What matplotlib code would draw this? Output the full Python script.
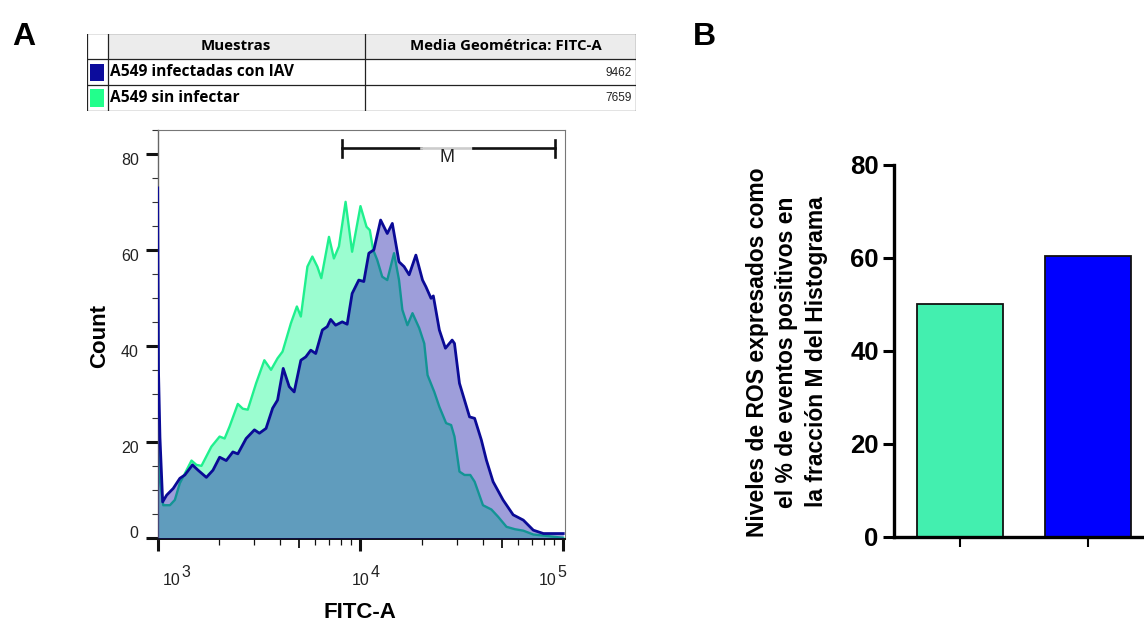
import numpy as np
import matplotlib
matplotlib.use("Agg")
import matplotlib.pyplot as plt
from matplotlib.patches import Rectangle

# ---- data -------------------------------------------------------------
# histogram: A549 infectadas con IAV (FITC-A intensity, count)
infected_fitc = [1000, 1009, 1026, 1058, 1107, 1193, 1286, 1361, 1484, 1581,
                 1738, 1873, 2020, 2178, 2348, 2484, 2730, 2999, 3173, 3422,
                 3687, 3900, 4159, 4452, 4710, 5081, 5373, 5687, 6015, 6486,
                 6855, 7129, 7540, 8128, 8597, 9094, 9810, 10385, 10996, 11644,
                 12570, 13555, 14355, 15490, 16410, 17380, 18760, 20230, 21030,
                 22280, 22870, 24490, 26240, 28320, 29080, 30770, 34510, 36550,
                 39450, 41780, 45080, 50480, 56620, 63530, 71180, 79830, 100000]
infected_count = [73, 35, 21, 7.6, 9.0, 10.4, 12.5, 13.2, 15.3, 14.2,
                  12.7, 14.2, 16.9, 16.2, 18.0, 17.6, 20.8, 22.6, 21.9, 22.9,
                  27.1, 28.8, 35.4, 31.6, 30.5, 37.1, 37.8, 39.2, 38.5, 43.4,
                  44.1, 45.6, 44.4, 45.1, 44.6, 51.0, 53.8, 53.5, 59.4, 60.1,
                  66.3, 63.5, 65.6, 57.6, 56.6, 54.9, 59.0, 53.8, 52.4,
                  50.0, 50.5, 43.4, 39.6, 41.3, 40.6, 32.3, 25.3, 25.0,
                  20.5, 16.3, 11.8, 8.0, 4.9, 3.8, 1.7, 1.0, 1.0]

# histogram: A549 sin infectar
uninf_fitc = [1000, 1009, 1026, 1065, 1149, 1215, 1286, 1361, 1468, 1553,
              1644, 1840, 2020, 2138, 2262, 2484, 2628, 2781, 3057, 3357,
              3622, 3900, 4128, 4538, 4857, 5081, 5474, 5790, 6127, 6410,
              6992, 7396, 7828, 8444, 9094, 10000, 10710, 11120, 11550, 12090,
              12800, 13555, 14640, 15490, 16090, 17040, 18050, 19480, 20630,
              21420, 23120, 24490, 26440, 27990, 29080, 30770, 32590, 34790,
              36550, 40180, 44240, 47710, 52500, 57740, 63530, 71180, 82990, 100000]
uninf_count = [60, 25, 12, 6.9, 6.9, 8.0, 11.5, 13.5, 16.2, 15.3,
               15.1, 19.1, 21.2, 20.8, 23.3, 28.0, 27.0, 26.8, 32.3, 37.1,
               35.1, 37.5, 38.9, 44.8, 48.3, 46.2, 56.6, 58.7, 56.6, 54.2,
               62.8, 58.3, 60.8, 70.1, 59.7, 69.2, 64.9, 64.2, 60.1, 58.0,
               54.5, 53.8, 59.4, 53.8, 47.6, 44.4, 46.9, 43.8, 40.6,
               34.0, 30.5, 27.4, 24.0, 23.6, 21.2, 13.9, 13.2, 13.2,
               11.8, 6.9, 6.0, 4.5, 2.4, 1.9, 1.6, 0.8, 0.5, 0.1]

gate_label = "M"
gate_range = [8070, 90600]
gate_label_gap = [19860, 35730]

table_header = ["Muestras", "Media Geométrica: FITC-A"]
sample_names = ["A549 infectadas con IAV", "A549 sin infectar"]
geo_means = [9462, 7659]
sample_colors = ["#0C0C9C", "#22FF8C"]

# bar chart (B)
bar_values = [50.0, 60.4]
bar_colors = ["#43EFAF", "#0000FF"]
bar_ylabel = "Niveles de ROS expresados como\nel % de eventos positivos en\nla fracción M del Histograma"

W, H = 1144, 623
plt.rcParams["font.family"] = ["Liberation Sans", "DejaVu Sans"]


def fx(px):
    return px / W


def fy(py):
    return 1 - py / H


fig = plt.figure(figsize=(W / 100, H / 100), dpi=100)

# ---- histogram -----------------------------------------------------------
ax = fig.add_axes([fx(157.7), fy(539.3), fx(565) - fx(157.7), fy(130.3) - fy(539.3)])
ax.set_xscale("log")
ax.set_xlim(1000, 102000)
ax.set_ylim(-0.2, 85)

ax.fill_between(uninf_fitc, 0, uninf_count, color="#9BFDD0", lw=0, zorder=1)
ax.plot(uninf_fitc, uninf_count, color="#1FF08E", lw=1.7, zorder=2)
ax.fill_between(infected_fitc, 0, infected_count, color="#0000A0", alpha=0.38, lw=0, zorder=3)
ax.plot(infected_fitc, infected_count, color="#0A0A96", lw=2.0, zorder=4)

for side in ["top", "right"]:
    ax.spines[side].set_color("#777777")
    ax.spines[side].set_linewidth(0.8)
ax.spines["left"].set_color("#666666")
ax.spines["left"].set_linewidth(1.0)
ax.spines["bottom"].set_color("#111111")
ax.spines["bottom"].set_linewidth(1.4)

ax.set_yticks(range(0, 81, 20))
ax.set_yticks(range(0, 86, 5), minor=True)
ax.set_yticklabels([])
ax.tick_params(axis="y", which="major", length=8.6, width=2.2, color="#111111")
ax.tick_params(axis="y", which="minor", length=4, width=0.8, color="#333333")

ax.set_xticks([1e3, 1e4, 1e5])
minor_x = [k * 10 ** d for d in (3, 4) for k in range(2, 10)]
ax.set_xticks(minor_x, minor=True)
ax.set_xticklabels([])
ax.set_xticklabels([], minor=True)
ax.tick_params(axis="x", which="major", length=8.6, width=2.2, color="#111111")
ax.tick_params(axis="x", which="minor", length=4.3, width=0.9, color="#111111")
for t, v in zip(ax.xaxis.get_minor_ticks(), minor_x):
    if str(v)[0] == "5":
        t.tick1line.set_markersize(6.5)
        t.tick1line.set_markeredgewidth(1.3)

for v in range(0, 81, 20):
    dy = 5 if v == 0 else -6
    ax.annotate(str(v), xy=(0, v), xycoords=("axes fraction", "data"),
                xytext=(-19, dy), textcoords="offset pixels",
                ha="right", va="center", fontsize=11.5, color="#222222")

for exp, dx in zip([3, 4, 5], [5, -9, -25]):
    ax.annotate("10", xy=(10 ** exp, 0), xycoords=("data", "axes fraction"),
                xytext=(dx, -41), textcoords="offset pixels",
                ha="left", va="center", fontsize=11.5, color="#222222")
    ax.annotate(str(exp), xy=(10 ** exp, 0), xycoords=("data", "axes fraction"),
                xytext=(dx + 19, -33), textcoords="offset pixels",
                ha="left", va="center", fontsize=11.5, color="#222222")

# gate M
gy = 81.4
ax.plot([gate_range[0], gate_label_gap[0]], [gy, gy], color="#111111", lw=1.9, zorder=5)
ax.plot(gate_label_gap, [gy, gy], color="#CCCCCC", lw=1.9, zorder=5)
ax.plot([gate_label_gap[1], gate_range[1]], [gy, gy], color="#111111", lw=1.9, zorder=5)
for gx in gate_range:
    ax.plot([gx, gx], [79.5, 83.0], color="#111111", lw=1.9, zorder=5)
ax.text(np.sqrt(gate_label_gap[0] * gate_label_gap[1]), 79.3, gate_label,
        ha="center", va="center", fontsize=13, color="#222222", zorder=6)

fig.text(fx(360), fy(612), "FITC-A", ha="center", va="center",
         fontsize=16, fontweight="bold")
fig.text(fx(100), fy(336), "Count", ha="center", va="center", rotation=90,
         fontsize=16, fontweight="bold")

# ---- table ---------------------------------------------------------------
tab = fig.add_axes([fx(87), fy(111.5), fx(636) - fx(87), fy(33.5) - fy(111.5)])
tab.set_xlim(87, 636)
tab.set_ylim(111.5, 33.5)
tab.axis("off")
rows_y = [33.5, 59.5, 85.5, 111.5]
cols_x = [87, 108, 365, 636]
tab.add_patch(Rectangle((cols_x[1], rows_y[0]), cols_x[3] - cols_x[1], rows_y[1] - rows_y[0],
                        facecolor="#ECECEC", edgecolor="none"))
for yy in rows_y:
    tab.plot([cols_x[0], cols_x[-1]], [yy, yy], color="#222222", lw=0.9)
for xx in cols_x:
    tab.plot([xx, xx], [rows_y[0], rows_y[-1]], color="#222222", lw=0.9)
tfont = ["Open Sans", "DejaVu Sans"]
tab.text(236, (rows_y[0] + rows_y[1]) / 2, table_header[0],
         ha="center", va="center", fontsize=10.8, fontweight="bold", family=tfont)
tab.text(506, (rows_y[0] + rows_y[1]) / 2, table_header[1],
         ha="center", va="center", fontsize=10.8, fontweight="bold", family=tfont)
for i, (name, val, col) in enumerate(zip(sample_names, geo_means, sample_colors)):
    y0, y1 = rows_y[i + 1], rows_y[i + 2]
    tab.add_patch(Rectangle((90, y0 + 4), 14, y1 - y0 - 8, facecolor=col, edgecolor="none"))
    tab.text(110, (y0 + y1) / 2, name, ha="left", va="center",
             fontsize=11.2, fontweight="bold", family=tfont)
    tab.text(632, (y0 + y1) / 2, str(val), ha="right", va="center",
             fontsize=8.5, color="#222222")

# ---- bar chart -----------------------------------------------------------
bx = fig.add_axes([fx(894), fy(536.7), 1 - fx(894), fy(165) - fy(536.7)])
bx.bar(range(len(bar_values)), bar_values, width=0.67, color=bar_colors,
       edgecolor="#111111", linewidth=1.3, zorder=2)
bx.set_xlim(-0.511, 1.434)
bx.set_ylim(0, 80)
bx.set_yticks(range(0, 81, 20))
bx.set_xticks(range(len(bar_values)))
bx.set_xticklabels([])
for lab in bx.get_yticklabels():
    lab.set_fontweight("bold")
bx.tick_params(axis="y", length=8, width=2.2, labelsize=18.5, pad=3)
bx.tick_params(axis="x", length=7.5, width=1.5)
bx.spines[["top", "right"]].set_visible(False)
bx.spines["left"].set_linewidth(2.4)
bx.spines["bottom"].set_linewidth(2.4)
fig.text(fx(786.7), fy(352), bar_ylabel, ha="center", va="center", rotation=90,
         fontsize=16.5, fontweight="bold", linespacing=1.37, multialignment="center")

# panel letters
fig.text(fx(12), fy(45), "A", ha="left", va="baseline", fontsize=23, fontweight="bold")
fig.text(fx(693), fy(45), "B", ha="left", va="baseline", fontsize=23, fontweight="bold")

fig.savefig("out.png", dpi=100)
